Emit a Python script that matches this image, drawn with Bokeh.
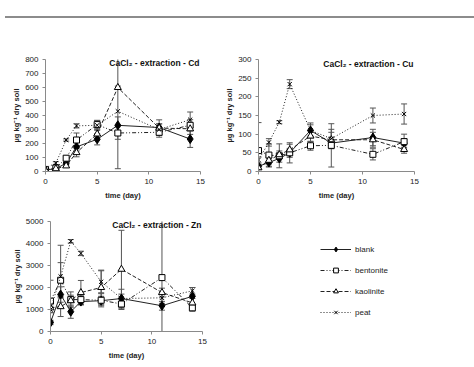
from bokeh.plotting import figure
from bokeh.models import (Whisker, TeeHead, ColumnDataSource, Label, Legend,
                          LegendItem, Div, FixedTicker, Spacer)
from bokeh.layouts import column, row
from bokeh.embed import file_html
from bokeh.resources import INLINE

# ---------------- data ----------------
days = [0, 1, 2, 3, 5, 7, 11, 14]

cd_blank = [12, 19, 60, 176, 230, 330, 314, 232]
cd_blank_err = [5, 8, 15, 30, 40, 60, 55, 60]
cd_bent = [12, 25, 95, 225, 335, 275, 280, 330]
cd_bent_err = [5, 8, 15, 50, 30, 45, 35, 40]
cd_kaol = [10, 20, 40, 135, 268, 600, 310, 305]
cd_kaol_err = [5, 8, 10, 30, 30, 10, 30, 40]
cd_peat = [25, 60, 225, 326, 330, 430, 300, 370]
cd_peat_err = [5, 10, 8, 15, 35, 410, 40, 55]

cu_blank = [14, 24, 35, 50, 110, 76, 91, 76]
cu_blank_err = [5, 12, 10, 12, 20, 15, 22, 12]
cu_bent = [56, 44, 42, 50, 69, 70, 46, 80]
cu_bent_err = [75, 30, 32, 27, 12, 58, 15, 20]
cu_kaol = [10, 30, 45, 58, 95, 85, 85, 59]
cu_kaol_err = [5, 10, 10, 15, 15, 20, 20, 10]
cu_peat = [31, 78, 132, 234, 110, 88, 150, 154]
cu_peat_err = [8, 10, 4, 12, 15, 25, 20, 27]

zn_blank = [410, 1680, 900, 1360, 1400, 1500, 1170, 1600]
zn_blank_err = [100, 350, 300, 150, 200, 200, 200, 400]
zn_bent = [1380, 2330, 1450, 1450, 1420, 1250, 2450, 1075]
zn_bent_err = [950, 800, 350, 200, 300, 250, 2700, 150]
zn_kaol = [1075, 1130, 1400, 1770, 2000, 2830, 1770, 1300]
zn_kaol_err = [200, 450, 250, 550, 790, 1770, 200, 200]
zn_peat = [1000, 2500, 4100, 3550, 2260, 1500, 1530, 1850]
zn_peat_err = [150, 1420, 80, 100, 500, 420, 250, 150]

x_ticks = [0, 5, 10, 15]
cd_ticks = [0, 100, 200, 300, 400, 500, 600, 700, 800]
cu_ticks = [0, 50, 100, 150, 200, 250, 300]
zn_ticks = [0, 1000, 2000, 3000, 4000, 5000]

series_names = ["blank", "bentonite", "kaolinite", "peat"]
x_label = "time (day)"
y_label = "µg kg⁻¹ dry soil"

FONT = "Liberation Sans"
LINE_C = "#222222"
ERR_C = "#555555"
AX_C = "#8a8a8a"

STYLES = {
    "blank": dict(marker="diamond", size=9, fill="black", dash="solid"),
    "bentonite": dict(marker="square", size=6, fill="white", dash="4 2 1 2 1 2"),
    "kaolinite": dict(marker="triangle", size=7, fill="white", dash="4 2"),
    "peat": dict(marker="x", size=6, fill="white", dash="1 2"),
}


def draw_series(p, name, xs, ys, errs):
    st = STYLES[name]
    p.line(xs, ys, line_color=LINE_C, line_width=1, line_dash=st["dash"])
    src = ColumnDataSource(dict(base=xs,
                                upper=[y + e for y, e in zip(ys, errs)],
                                lower=[y - e for y, e in zip(ys, errs)]))
    w = Whisker(source=src, base="base", upper="upper", lower="lower",
                line_color=ERR_C, line_width=1,
                upper_head=TeeHead(size=6, line_color=ERR_C, line_width=1),
                lower_head=TeeHead(size=6, line_color=ERR_C, line_width=1))
    p.add_layout(w)
    p.scatter(xs, ys, marker=st["marker"], size=st["size"],
              fill_color=st["fill"], line_color="black", line_width=1)


def panel(width, height, mbl, mbr, mbt, mbb, ymax, yticks, series, title,
          tx_off, ty_off):
    p = figure(width=width, height=height, x_range=(0, 15), y_range=(0, ymax),
               output_backend="svg", toolbar_location=None, title=None,
               min_border_left=mbl, min_border_right=mbr,
               min_border_top=mbt, min_border_bottom=mbb)
    p.xgrid.visible = False
    p.ygrid.visible = False
    p.outline_line_color = None
    p.background_fill_color = None
    p.border_fill_color = None
    p.xaxis.ticker = FixedTicker(ticks=x_ticks)
    p.yaxis.ticker = FixedTicker(ticks=yticks)
    for ax in (p.xaxis[0], p.yaxis[0]):
        ax.axis_line_color = AX_C
        ax.major_tick_line_color = AX_C
        ax.major_tick_out = 3
        ax.major_tick_in = 0
        ax.minor_tick_line_color = None
        ax.major_label_text_font = FONT
        ax.major_label_text_font_size = "8px"
        ax.major_label_text_color = "#222222"
        ax.axis_label_text_font = FONT
        ax.axis_label_text_font_size = "7.5px"
        ax.axis_label_text_font_style = "bold"
        ax.axis_label_text_color = "#222222"
    p.xaxis.major_label_standoff = 4
    p.yaxis.major_label_standoff = 4
    p.xaxis.axis_label_standoff = 4
    p.yaxis.axis_label_standoff = 1
    p.xaxis.axis_label = x_label
    p.yaxis.axis_label = y_label
    for name, (ys, errs) in zip(series_names, series):
        draw_series(p, name, days, ys, errs)
    p.add_layout(Label(x=15, y=ymax, x_offset=tx_off, y_offset=ty_off,
                       text=title, text_align="right", text_baseline="middle",
                       text_font=FONT, text_font_size="8.5px",
                       text_font_style="bold", text_color="#111111"))
    return p


p_cd = panel(214, 185, 37, 22, 36, 37, 800, cd_ticks,
             [(cd_blank, cd_blank_err), (cd_bent, cd_bent_err),
              (cd_kaol, cd_kaol_err), (cd_peat, cd_peat_err)],
             "CaCl₂ - extraction - Cd", -1, -3)
p_cu = panel(244, 185, 36, 52, 36, 37, 300, cu_ticks,
             [(cu_blank, cu_blank_err), (cu_bent, cu_bent_err),
              (cu_kaol, cu_kaol_err), (cu_peat, cu_peat_err)],
             "CaCl₂ - extraction - Cu", -1, -4)
p_zn = panel(214, 154, 42, 20, 13, 31, 5000, zn_ticks,
             [(zn_blank, zn_blank_err), (zn_bent, zn_bent_err),
              (zn_kaol, zn_kaol_err), (zn_peat, zn_peat_err)],
             "CaCl₂ - extraction - Zn", -1, -3)

# legend panel
p_lg = figure(width=244, height=154, x_range=(0, 15), y_range=(0, 5000),
              output_backend="svg", toolbar_location=None, title=None,
              x_axis_location=None, y_axis_location=None, min_border=0)
p_lg.grid.visible = False
p_lg.outline_line_color = None
p_lg.background_fill_color = None
p_lg.border_fill_color = None
items = []
for name, ys in zip(series_names, [zn_blank, zn_bent, zn_kaol, zn_peat]):
    st = STYLES[name]
    lr = p_lg.line(days[:1], ys[:1], line_color=LINE_C, line_width=1,
                   line_dash=st["dash"], visible=False)
    sr = p_lg.scatter(days[:1], ys[:1], marker=st["marker"], size=st["size"],
                      fill_color=st["fill"], line_color="black", line_width=1,
                      visible=False)
    items.append(LegendItem(label=name, renderers=[lr, sr]))
legend = Legend(items=items, location=(98, 13), padding=0, margin=0,
                spacing=9, glyph_width=31, glyph_height=12, label_height=12,
                label_standoff=4, label_text_font=FONT,
                label_text_font_size="8px", label_text_color="#222222",
                border_line_color=None, background_fill_color=None,
                inactive_fill_alpha=0)
p_lg.add_layout(legend)

top_line = Div(text="", width=474, height=13,
               styles={"border-bottom": "2px solid #8c8c8c",
                       "box-sizing": "border-box"})

p = column(top_line,
           row(Spacer(width=8, height=185), p_cd, p_cu),
           row(Spacer(width=8, height=154), p_zn, p_lg))

open("out.html", "w").write(file_html(p, INLINE))
